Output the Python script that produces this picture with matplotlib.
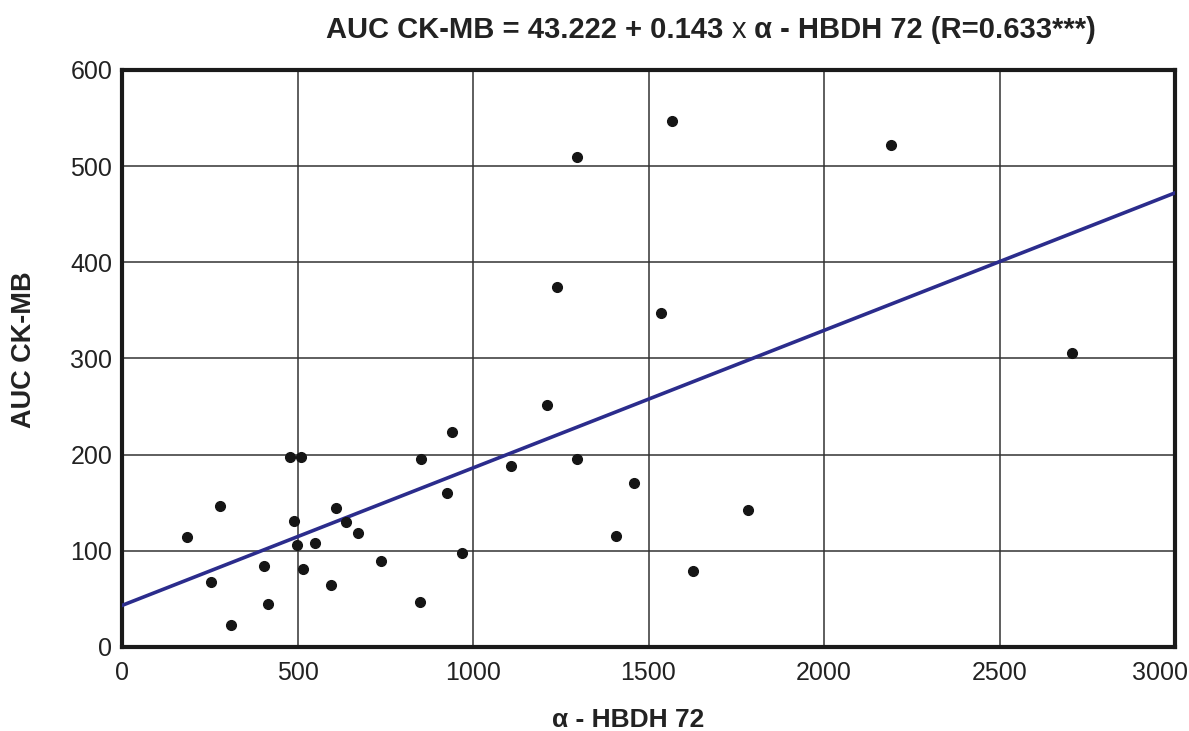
import matplotlib
matplotlib.use("Agg")
import matplotlib.pyplot as plt
import matplotlib.transforms as mtransforms
import numpy as np

# alpha-HBDH 72 vs AUC CK-MB
hbdh = [941, 480, 511, 853, 1107, 279, 925, 611, 490, 639, 673, 186, 499, 551,
        970, 405, 739, 516, 254, 595, 417, 850, 311,
        1210, 1296, 1458, 1406, 1783, 1626,
        2192, 2707,
        1567, 1296, 1239, 1536]
ckmb = [224, 198, 198, 196, 188, 147, 160, 145, 131, 130, 119, 114, 106, 108,
        98, 84, 89, 81, 68, 64, 45, 47, 23,
        252, 195, 171, 115, 142, 79,
        522, 306,
        547, 510, 374, 347]

intercept = 43.222
slope = 0.143
xticks = [0, 500, 1000, 1500, 2000, 2500, 3000]
yticks = [0, 100, 200, 300, 400, 500, 600]

plt.rcParams['font.family'] = ['Liberation Sans', 'DejaVu Sans']

W, H = 1189, 731
fig = plt.figure(figsize=(W / 100, H / 100), dpi=100)
ax = fig.add_axes([122 / W, (H - 647) / H, 1053 / W, 577 / H])

ax.set_xlim(0, 3000)
ax.set_ylim(0, 600)
ax.set_xticks(xticks)
ax.set_yticks(yticks)
ax.grid(True, color='#333333', linewidth=1.1)
ax.set_axisbelow(True)
ax.tick_params(length=0, labelsize=18, colors='#222222')
ax.tick_params(axis='x', pad=10)
ax.tick_params(axis='y', pad=7)

# keep the last x label inside the figure, like the reference
last = ax.get_xticklabels()[-1]
last.set_horizontalalignment('right')
last.set_transform(last.get_transform() + mtransforms.ScaledTranslation(13 / 100, 0, fig.dpi_scale_trans))

xl = np.array([0, 3000])
ax.plot(xl, intercept + slope * xl, color='#2b2c8c', linewidth=2.6, zorder=3)
ax.plot(hbdh, ckmb, 'o', color='#151515', markersize=7, zorder=4)

for s in ax.spines.values():
    s.set_linewidth(3)
    s.set_color('#1a1a1a')

fig.text(628 / W, 1 - 727 / H, 'α - HBDH 72', fontsize=19, fontweight='bold',
         ha='center', va='baseline', color='#222222')
fig.text(24 / W, 1 - 350 / H, 'AUC CK-MB', fontsize=19.5, fontweight='bold',
         ha='center', va='center', rotation=90, color='#222222')

# title: bold parts with a plain "x" in between
fig.canvas.draw()
r = fig.canvas.get_renderer()
ty = 1 - 38 / H
t1 = fig.text(0, ty, 'AUC CK-MB = 43.222 + 0.143 ', fontsize=21, fontweight='bold', va='baseline', color='#222222')
t2 = fig.text(0, ty, 'x', fontsize=21, va='baseline', color='#222222')
t3 = fig.text(0, ty, ' α - HBDH 72 (R=0.633***)', fontsize=21, fontweight='bold', va='baseline', color='#222222')
w1 = t1.get_window_extent(r).width
w2 = t2.get_window_extent(r).width
w3 = t3.get_window_extent(r).width
x0 = 711 - (w1 + w2 + w3) / 2
t1.set_x(x0 / W)
t2.set_x((x0 + w1) / W)
t3.set_x((x0 + w1 + w2) / W)

fig.savefig('out.png', dpi=100)
